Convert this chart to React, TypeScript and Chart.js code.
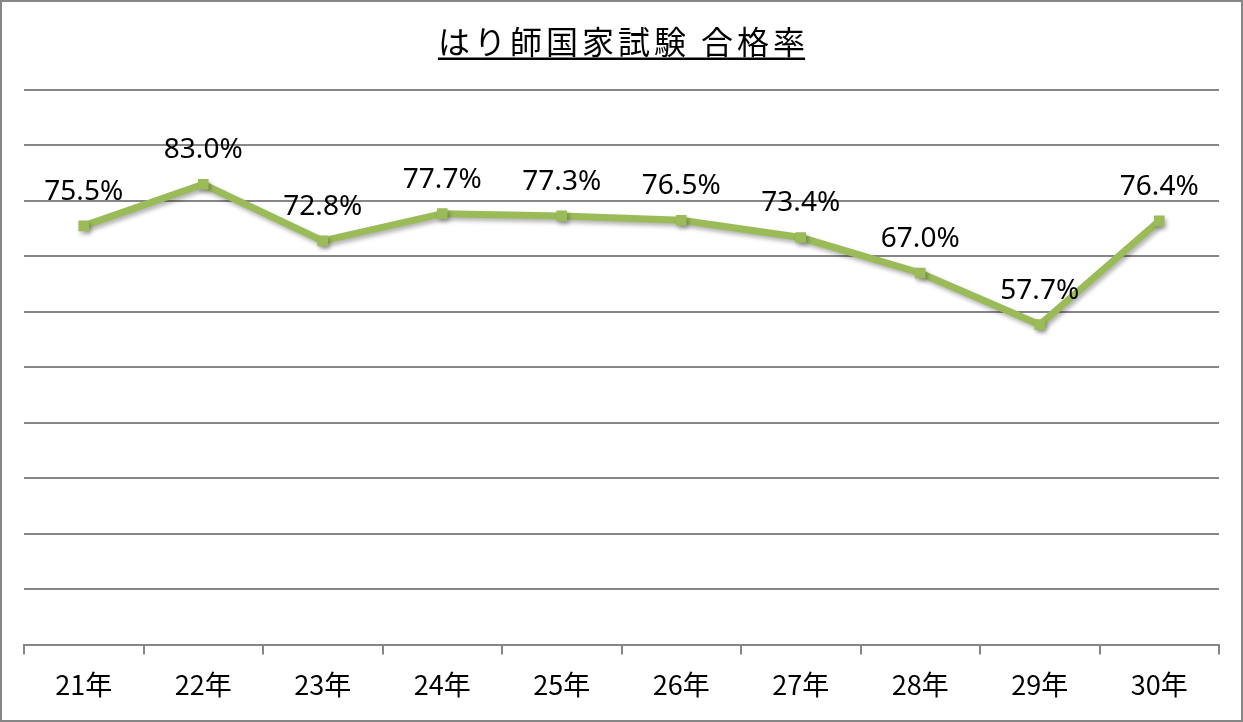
import React, { useEffect, useRef } from "react";
import { Chart, registerables } from "chart.js";

Chart.register(...registerables);

const TITLE = "はり師国家試験 合格率";
const categories = ["21年", "22年", "23年", "24年", "25年", "26年", "27年", "28年", "29年", "30年"];
const passRates = [75.5, 83.0, 72.8, 77.7, 77.3, 76.5, 73.4, 67.0, 57.7, 76.4];
const rateLabels = ["75.5%", "83.0%", "72.8%", "77.7%", "77.3%", "76.5%", "73.4%", "67.0%", "57.7%", "76.4%"];

const GRID = "#868686";
const GREEN = "#9BBB59";
const W = 1243;
const H = 722;

const decorPlugin = {
  id: "decor",
  beforeDatasetsDraw(chart: any) {
    const ctx = chart.ctx;
    ctx.save();
    ctx.shadowColor = "rgba(0,0,0,0.3)";
    ctx.shadowBlur = 4;
    ctx.shadowOffsetX = 2;
    ctx.shadowOffsetY = 3;
  },
  afterDatasetsDraw(chart: any) {
    const ctx = chart.ctx;
    ctx.restore();
    const meta = chart.getDatasetMeta(0);
    ctx.save();
    ctx.fillStyle = "#000";
    ctx.font = '28px "Noto Sans", sans-serif';
    ctx.textAlign = "center";
    ctx.textBaseline = "middle";
    meta.data.forEach((pt: any, i: number) => {
      ctx.fillText(rateLabels[i], pt.x, pt.y - 34);
    });
    ctx.restore();
  },
  afterDraw(chart: any) {
    const ctx = chart.ctx;
    ctx.save();
    ctx.fillStyle = "#000";
    ctx.font = '32px "Noto Sans CJK JP", sans-serif';
    (ctx as any).letterSpacing = "4px";
    ctx.textAlign = "left";
    ctx.textBaseline = "alphabetic";
    const tw = ctx.measureText(TITLE).width - 4;
    const tx = W / 2 - tw / 2;
    ctx.fillText(TITLE, tx, 54);
    ctx.fillRect(tx, 57.5, tw, 2.5);
    ctx.strokeStyle = GRID;
    ctx.lineWidth = 2;
    ctx.strokeRect(1, 1, W - 2, H - 2);
    ctx.restore();
  },
};

export default function App() {
  const ref = useRef<HTMLCanvasElement | null>(null);
  useEffect(() => {
    document.body.style.margin = "0";
    if (!ref.current) return;
    const chart = new Chart(ref.current, {
      type: "line",
      data: {
        labels: categories,
        datasets: [
          {
            data: passRates,
            borderColor: GREEN,
            backgroundColor: GREEN,
            borderWidth: 7,
            pointStyle: "rect",
            pointRadius: 7.5,
            pointBorderWidth: 0,
            pointBackgroundColor: GREEN,
            tension: 0,
          },
        ],
      },
      options: {
        responsive: false,
        animation: false,
        devicePixelRatio: 1,
        layout: { padding: { top: 90, left: 24, right: 24, bottom: 7 } },
        plugins: { legend: { display: false }, tooltip: { enabled: false }, title: { display: false } },
        scales: {
          x: {
            offset: true,
            grid: {
              display: true,
              offset: true,
              drawOnChartArea: false,
              drawTicks: true,
              tickLength: 10,
              color: GRID,
              lineWidth: 2,
            },
            border: { display: true, color: GRID, width: 2 },
            ticks: {
              color: "#000",
              font: { family: '"Noto Sans CJK JP", sans-serif', size: 27 },
              padding: 14,
              maxRotation: 0,
            },
          },
          y: {
            min: 0,
            max: 100,
            ticks: { display: false, stepSize: 10 },
            grid: { color: GRID, lineWidth: 2, drawTicks: false },
            border: { display: false },
          },
        },
      },
      plugins: [decorPlugin],
    });
    return () => chart.destroy();
  }, []);
  return (
    <div style={{ width: W, height: H }}>
      <canvas ref={ref} width={W} height={H} style={{ display: "block" }} />
    </div>
  );
}
